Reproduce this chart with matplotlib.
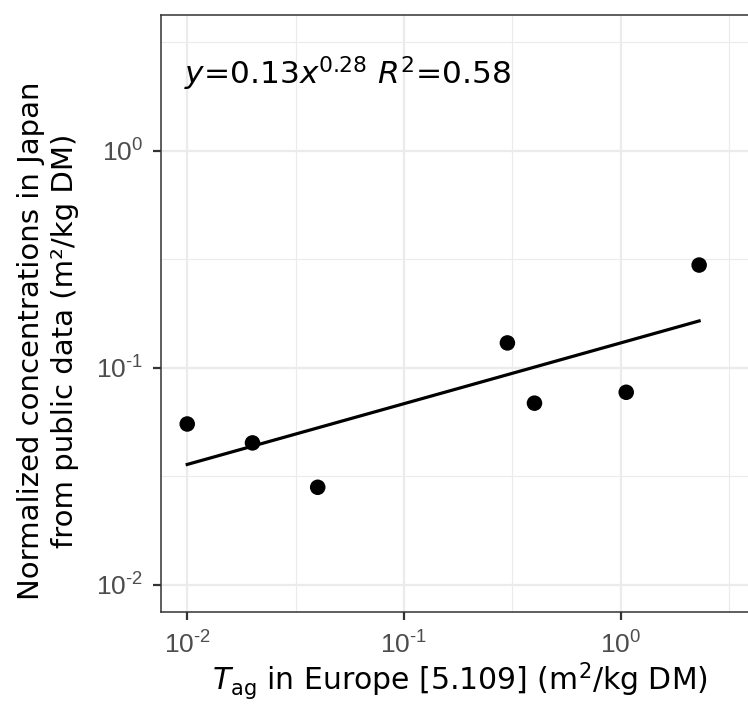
import numpy as np
import matplotlib
matplotlib.use("Agg")
import matplotlib.pyplot as plt
from matplotlib.ticker import LogLocator, NullFormatter

plt.rcParams['font.family'] = ['Liberation Sans', 'DejaVu Sans']
plt.rcParams['mathtext.fontset'] = 'custom'
plt.rcParams['mathtext.rm'] = 'Liberation Sans'
plt.rcParams['mathtext.it'] = 'Liberation Sans:italic'
plt.rcParams['mathtext.bf'] = 'Liberation Sans:bold'

# T_ag in Europe vs normalized concentrations in Japan
t_ag_europe = [0.01, 0.02, 0.04, 0.30, 0.40, 1.06, 2.30]
conc_japan = [0.055, 0.045, 0.0281, 0.130, 0.0686, 0.077, 0.297]

# power-law fit y = a * x^b
fit_a = 0.13
fit_b = 0.28
fit_r2 = 0.58

x_ticks = [0.01, 0.1, 1.0]
y_ticks = [0.01, 0.1, 1.0]
tick_labels = [r'$10^{\text{-}2}$', r'$10^{\text{-}1}$', r'$10^{0}$']

title_font = dict(family='DejaVu Sans', math_fontfamily='dejavusans')

fig = plt.figure(figsize=(7.48, 7.16), dpi=100)
ax = fig.add_axes([161 / 748, 104 / 716, 590 / 748, 597 / 716])
ax.set_xscale('log')
ax.set_yscale('log')
ax.set_xlim(10 ** -2.121, 10 ** 0.601)
ax.set_ylim(10 ** -2.126, 10 ** 0.625)

# grid: major at decades, minor at half decades
ax.set_xticks(x_ticks)
ax.set_yticks(y_ticks)
ax.set_xticklabels(tick_labels)
ax.set_yticklabels(tick_labels)
ax.xaxis.set_minor_locator(LogLocator(base=10, subs=[10 ** 0.5], numticks=10))
ax.yaxis.set_minor_locator(LogLocator(base=10, subs=[10 ** 0.5], numticks=10))
ax.xaxis.set_minor_formatter(NullFormatter())
ax.yaxis.set_minor_formatter(NullFormatter())
ax.grid(True, which='major', color='#EBEBEB', linewidth=1.6, zorder=0)
ax.grid(True, which='minor', color='#EBEBEB', linewidth=0.8, zorder=0)
ax.tick_params(which='minor', length=0)
ax.tick_params(which='major', length=5.8, width=1.6, color='#333333',
               labelsize=19, labelcolor='#4D4D4D')
ax.tick_params(axis='x', which='major', pad=8)
ax.tick_params(axis='y', which='major', pad=7)
ax.set_axisbelow(True)
for s in ax.spines.values():
    s.set_color('#333333')
    s.set_linewidth(1.1)

# fitted line over the data range
xf = np.logspace(np.log10(min(t_ag_europe)), np.log10(max(t_ag_europe)), 100)
ax.plot(xf, fit_a * xf ** fit_b, color='black', linewidth=2.3, zorder=3)

ax.scatter(t_ag_europe, conc_japan, s=125, color='black', zorder=4,
           edgecolors='none')

ax.text(0.0097, 2.03,
        r'$\it{y}$=%.2f$\it{x}^{%.2f}$ $\it{R}^{2}$=%.2f' % (fit_a, fit_b, fit_r2),
        ha='left', va='baseline', fontsize=22.5, color='black', **title_font)

fig.text(460 / 748, 1 - 690 / 716, r'$\it{T}_{\rm ag}$ in Europe [5.109] (m$^2$/kg DM)',
         ha='center', va='baseline', fontsize=21.5, color='black', **title_font)
fig.text(48 / 748, 1 - 341 / 716,
         'Normalized concentrations in Japan\nfrom public data (m\u00b2/kg DM)',
         ha='center', va='center', rotation=90, fontsize=21, color='black',
         multialignment='center', linespacing=1.3, **title_font)

fig.savefig('out.png', dpi=100)
